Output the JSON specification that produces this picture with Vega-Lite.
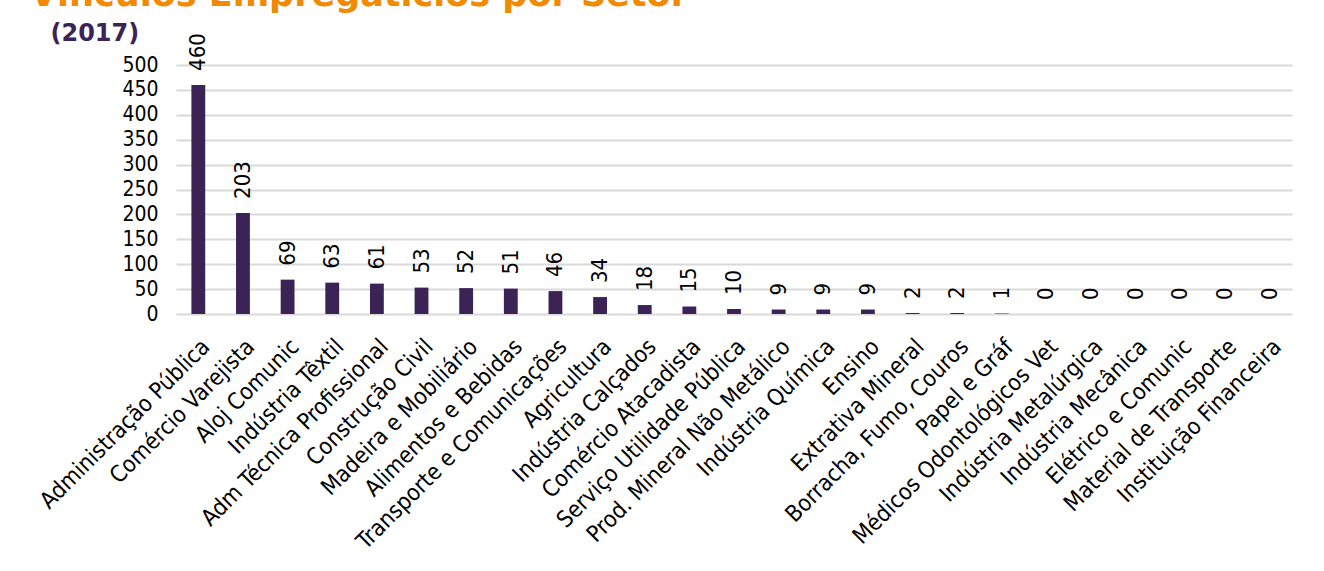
{
  "$schema": "https://vega.github.io/schema/vega-lite/v6.json",
  "width": 1116,
  "height": 249,
  "autosize": {"type": "none"},
  "padding": {"left": 176, "top": 65, "right": 32, "bottom": 257},
  "background": "white",
  "title": {
    "text": "Vínculos Empregatícios por Setor",
    "anchor": "start",
    "frame": "group",
    "dx": -146,
    "dy": 20,
    "offset": 0,
    "font": "DejaVu Sans, sans-serif",
    "fontSize": 35,
    "fontWeight": "bold",
    "color": "#F28A00",
    "baseline": "alphabetic"
  },
  "data": {
    "values": [
      {"setor": "Administração Pública", "vinculos": 460},
      {"setor": "Comércio Varejista", "vinculos": 203},
      {"setor": "Aloj Comunic", "vinculos": 69},
      {"setor": "Indústria Têxtil", "vinculos": 63},
      {"setor": "Adm Técnica Profissional", "vinculos": 61},
      {"setor": "Construção Civil", "vinculos": 53},
      {"setor": "Madeira e Mobiliário", "vinculos": 52},
      {"setor": "Alimentos e Bebidas", "vinculos": 51},
      {"setor": "Transporte e Comunicações", "vinculos": 46},
      {"setor": "Agricultura", "vinculos": 34},
      {"setor": "Indústria Calçados", "vinculos": 18},
      {"setor": "Comércio Atacadista", "vinculos": 15},
      {"setor": "Serviço Utilidade Pública", "vinculos": 10},
      {"setor": "Prod. Mineral Não Metálico", "vinculos": 9},
      {"setor": "Indústria Química", "vinculos": 9},
      {"setor": "Ensino", "vinculos": 9},
      {"setor": "Extrativa Mineral", "vinculos": 2},
      {"setor": "Borracha, Fumo, Couros", "vinculos": 2},
      {"setor": "Papel e Gráf", "vinculos": 1},
      {"setor": "Médicos Odontológicos Vet", "vinculos": 0},
      {"setor": "Indústria Metalúrgica", "vinculos": 0},
      {"setor": "Indústria Mecânica", "vinculos": 0},
      {"setor": "Elétrico e Comunic", "vinculos": 0},
      {"setor": "Material de Transporte", "vinculos": 0},
      {"setor": "Instituição Financeira", "vinculos": 0}
    ]
  },
  "encoding": {
    "x": {
      "field": "setor",
      "type": "nominal",
      "sort": null,
      "scale": {"paddingInner": 0.69, "paddingOuter": 0.345},
      "axis": {
        "title": null,
        "labelAngle": -45,
        "labelAlign": "right",
        "labelBaseline": "top",
        "labelPadding": 21,
        "labelDx": -9,
        "labelFont": "DejaVu Sans Condensed, DejaVu Sans, sans-serif",
        "labelFontSize": 23,
        "labelColor": "#000000",
        "labelOverlap": false,
        "labelLimit": 400,
        "domain": false,
        "ticks": false,
        "grid": false
      }
    },
    "y": {
      "field": "vinculos",
      "type": "quantitative",
      "scale": {"domain": [0, 500], "nice": false},
      "axis": {
        "values": [0, 50, 100, 150, 200, 250, 300, 350, 400, 450, 500],
        "title": "(2017)",
        "titleAngle": 0,
        "titleAlign": "left",
        "titleBaseline": "alphabetic",
        "titleX": -126,
        "titleY": -25,
        "titleFont": "DejaVu Sans, sans-serif",
        "titleFontSize": 24,
        "titleFontWeight": "bold",
        "titleColor": "#3B2358",
        "labelFont": "DejaVu Sans Condensed, DejaVu Sans, sans-serif",
        "labelFontSize": 21,
        "labelColor": "#000000",
        "labelPadding": 18,
        "domain": false,
        "ticks": false,
        "grid": true,
        "gridColor": "#D9D9D9",
        "gridWidth": 2
      }
    }
  },
  "layer": [
    {"mark": {"type": "bar", "color": "#3B2356"}},
    {
      "mark": {
        "type": "text",
        "angle": 270,
        "align": "left",
        "baseline": "middle",
        "dx": 14,
        "font": "DejaVu Sans Condensed, DejaVu Sans, sans-serif",
        "fontSize": 22,
        "color": "#000000"
      },
      "encoding": {"text": {"field": "vinculos", "type": "quantitative"}}
    }
  ],
  "config": {"view": {"stroke": null}}
}
